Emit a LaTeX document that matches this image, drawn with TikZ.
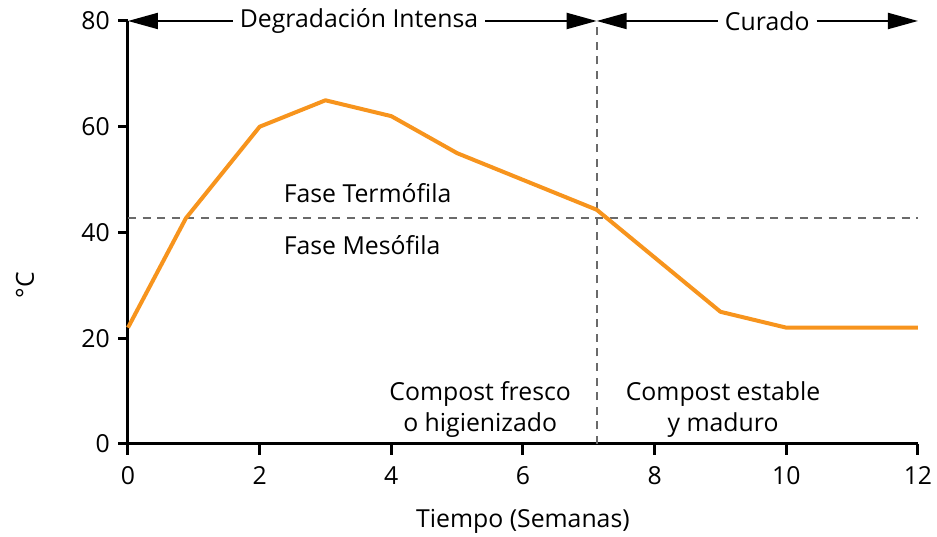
\documentclass[tikz,border=0pt]{standalone}
\usepackage{fontspec}
\setmainfont{Open Sans}
\usetikzlibrary{arrows.meta}
\definecolor{tempcolor}{HTML}{F7941D}
\definecolor{guidegray}{HTML}{6A6A6A}

\begin{document}
\begin{tikzpicture}[x=32.92pt, y=2.644pt, font=\fontsize{12.4}{15.5}\selectfont,
        axis/.style={line width=1.5pt},
        phasearrow/.style={line width=1pt, -{Triangle[length=15pt,width=8pt]}},
        guide/.style={guidegray, line width=0.9pt, dash pattern=on 4pt off 3.3pt},
        temp/.style={tempcolor, line width=2pt, line join=round}]
        \useasboundingbox (-1.944,-17.59) rectangle (12.289,83.97);

        % axes and ticks
        \draw[axis] (0,80) -- (0,0) -- (12,0);
        \foreach \x in {0,2,...,12} {
            \draw[axis] (\x,0) -- ++(0pt,-5.5pt);
            \node (xl\x) at (\x,-6.05) {\x};
        }
        \foreach \y in {0,20,...,80} {
            \draw[axis] (0,\y) -- ++(-5pt,0pt);
            \node[anchor=east, inner sep=0pt] (yl\y) at (-0.27,\y) {\y};
        }
        \node (xlabel) at (6.0,-14.56) {Tiempo (Semanas)};
        \node[rotate=90] (ylabel) at (-1.565,30.07) {°C};

        % phase boundaries
        \coordinate (split) at (7.12,80);
        \draw[guide] (0,42.7) -- (12,42.7);
        \draw[guide] (7.12,0) -- (split);

        % temperature curve
        \draw[temp] (0,22) -- (0.88,42.7) -- (2,60) -- (3,65) -- (4,62)
            -- (5,55) -- (7.12,44.3) -- (9,25) -- (10,22) -- (12,22);

        % stages on top
        \node (deg) at (3.51,80) {Degradación Intensa};
        \node (cur) at (9.71,80) {Curado};
        \coordinate (top0) at (0,80);
        \coordinate (top12) at (12,80);
        \draw[phasearrow] (deg.west) -- (top0);
        \draw[phasearrow] (deg.east) -- (split);
        \draw[phasearrow] (cur.west) -- (split);
        \draw[phasearrow] (cur.east) -- (top12);

        % phase labels
        \node[anchor=west] (thermo) at (2.26,47.47) {Fase Termófila};
        \node[anchor=west] (meso) at (2.26,37.6) {Fase Mesófila};
        \node[align=center] (fresh) at (5.35,6.6) {Compost fresco\\o higienizado};
        \node[align=center] (mature) at (9.04,6.6) {Compost estable\\y maduro};
\end{tikzpicture}
\end{document}
